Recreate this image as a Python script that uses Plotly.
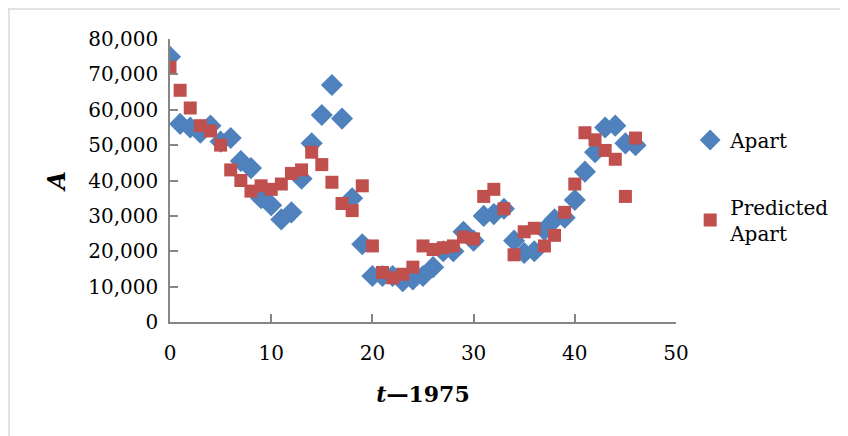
import plotly.graph_objects as go

t_years = list(range(0, 47))
apart = [75000, 56000, 55000, 53500, 55500, 51000, 52000, 45500, 43500, 35000,
         33000, 29000, 31000, 40500, 50500, 58500, 67000, 57500, 35000, 22000,
         13000, 13000, 13000, 11500, 12000, 13000, 15500, 20000, 20000, 25500,
         23000, 30000, 30500, 32000, 23000, 19500, 20000, 26000, 29000, 29500,
         34500, 42500, 48000, 55000, 55500, 50500, 50000]
predicted = [72000, 65500, 60500, 55500, 54000, 50000, 43000, 40000, 37000, 38500,
             37500, 39000, 42000, 43000, 48000, 44500, 39500, 33500, 31500, 38500,
             21500, 14000, 12500, 13500, 15500, 21500, 20500, 21000, 21500, 24000,
             23500, 35500, 37500, 32000, 19000, 25500, 26500, 21500, 24500, 31000,
             39000, 53500, 51500, 48500, 46000, 35500, 52000]
x_ticks = [0, 10, 20, 30, 40, 50]
y_ticks = [0, 10000, 20000, 30000, 40000, 50000, 60000, 70000, 80000]

FONT = "DejaVu Serif"
fig = go.Figure()
fig.add_trace(go.Scatter(
    x=t_years, y=apart, mode="markers", name="Apart", legendgroup="a",
    marker=dict(symbol="diamond", size=17, color="#4F81BD", line=dict(width=0)),
))
fig.add_trace(go.Scatter(
    x=t_years, y=predicted, mode="markers", name="Predicted<br>Apart", legendgroup="b",
    marker=dict(symbol="square", size=13, color="#C0504D", line=dict(width=0)),
))

axis_common = dict(
    showgrid=False, zeroline=False, showline=True, linecolor="#868686", linewidth=1.5,
    ticks="inside", ticklen=8, tickcolor="#868686", tickwidth=1.5, automargin=False,
    tickfont=dict(family=FONT, size=20, color="#000000"),
)
fig.update_xaxes(range=[0, 50], tickvals=x_ticks, ticktext=[str(v) for v in x_ticks],
                 ticklabelstandoff=12,
                 title=dict(text="<b><i>t</i>—1975</b>", font=dict(family=FONT, size=22, color="#000"), standoff=23),
                 **axis_common)
fig.update_yaxes(range=[0, 80000], tickvals=y_ticks, ticktext=[f"{v:,}" for v in y_ticks],
                 ticklabelstandoff=6,
                 title=dict(text="<b><i>A</i></b>", font=dict(family=FONT, size=24, color="#000"), standoff=16),
                 **axis_common)

# frame (top and left edges visible in the reference)
fig.add_shape(type="line", xref="paper", yref="paper",
              x0=-162 / 506, x1=(848 - 162) / 506, y0=(314 - 1) / 283, y1=(314 - 1) / 283,
              line=dict(color="#d9d9d9", width=1.5), layer="below")
fig.add_shape(type="line", xref="paper", yref="paper",
              x0=(1 - 162) / 506, x1=(1 - 162) / 506, y0=(314 - 1) / 283, y1=(314 - 436) / 283,
              line=dict(color="#d9d9d9", width=1.5), layer="below")

fig.update_layout(
    width=848, height=436,
    margin=dict(l=162, r=180, t=31, b=122, autoexpand=False),
    paper_bgcolor="white", plot_bgcolor="white",
    showlegend=True,
    legend=dict(x=1.028, y=0.712, xanchor="left", yanchor="top",
                font=dict(family=FONT, size=20, color="#000"),
                tracegroupgap=38, traceorder="grouped", itemwidth=30,
                bgcolor="rgba(0,0,0,0)"),
)
fig.write_html("out.html")
